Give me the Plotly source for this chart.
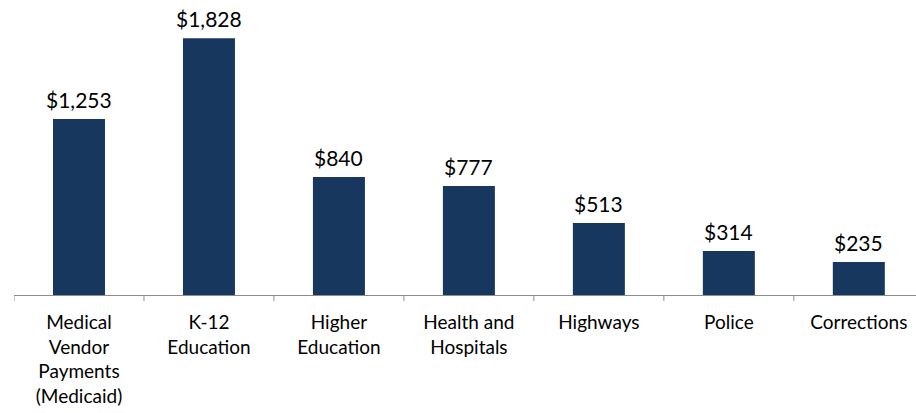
import plotly.graph_objects as go

categories = [
    "Medical<br>Vendor<br>Payments<br>(Medicaid)",
    "K-12<br>Education",
    "Higher<br>Education",
    "Health and<br>Hospitals",
    "Highways",
    "Police",
    "Corrections",
]
spending = [1253, 1828, 840, 777, 513, 314, 235]

BAR_COLOR = "#17375E"
AXIS_COLOR = "#8C8C8C"
FONT = "Lato"

positions = list(range(len(categories)))

fig = go.Figure(
    go.Bar(
        x=positions,
        y=spending,
        marker=dict(color=BAR_COLOR, line=dict(width=0)),
        hoverinfo="skip",
    )
)

# value labels above each bar
for xi, v in zip(positions, spending):
    fig.add_annotation(
        x=xi,
        y=v,
        xref="x",
        yref="y",
        text=f"${v:,}",
        showarrow=False,
        yanchor="bottom",
        yshift=5,
        font=dict(family=FONT, size=21, color="#000000"),
    )

# tick marks on category boundaries, pointing down from the axis line
for b in range(len(categories) + 1):
    fig.add_shape(
        type="line",
        xref="x",
        yref="paper",
        x0=b - 0.5,
        x1=b - 0.5,
        ysizemode="pixel",
        yanchor=0,
        y0=0,
        y1=-6,
        line=dict(color=AXIS_COLOR, width=1),
    )

fig.update_layout(
    width=916,
    height=413,
    margin=dict(l=14, r=0, t=0, b=118),
    paper_bgcolor="white",
    plot_bgcolor="white",
    bargap=0.6,
    showlegend=False,
    font=dict(family=FONT, size=19, color="#000000"),
)

fig.update_xaxes(
    tickmode="array",
    tickvals=positions,
    ticktext=categories,
    range=[-0.5, 6.44],
    showline=True,
    linecolor=AXIS_COLOR,
    linewidth=1,
    ticks="",
    ticklabelstandoff=10,
    showgrid=False,
    zeroline=False,
    tickfont=dict(family=FONT, size=19, color="#000000"),
)

fig.update_yaxes(
    range=[0, 2101],
    visible=False,
    showgrid=False,
    zeroline=False,
)

fig.write_html("out.html")
